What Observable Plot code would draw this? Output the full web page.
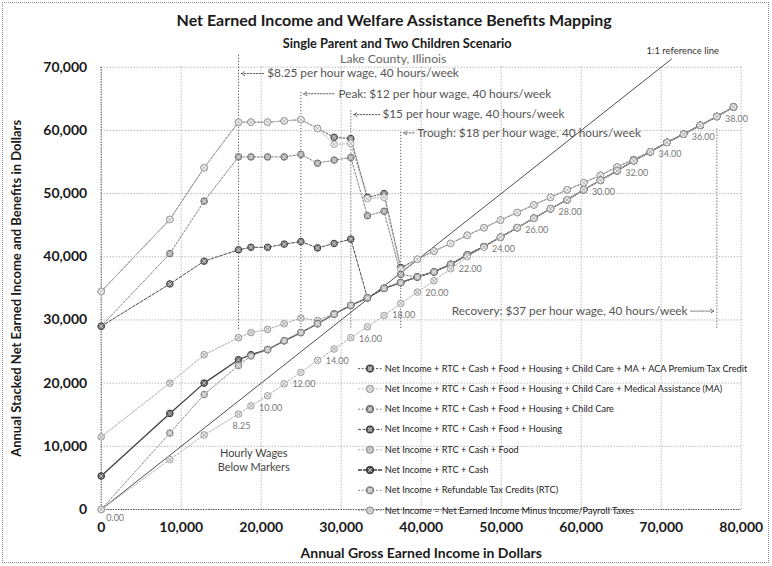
<!DOCTYPE html>
<html><head><meta charset="utf-8">
<script src="https://cdn.jsdelivr.net/npm/d3@7"></script>
<script src="https://cdn.jsdelivr.net/npm/@observablehq/plot@0.6"></script>
<style>
body{margin:0;background:#fff;}
#wrap{position:relative;width:772px;height:566px;overflow:hidden;}
#border{position:absolute;left:2px;top:2px;width:767px;height:561px;border:1px dotted #8a8a8a;box-sizing:border-box;pointer-events:none;}
</style></head><body><div id="wrap"><div id="border"></div></div>
<script>
// ---------- data ----------
const grossIncome = [0, 8580, 12870, 17160, 18720, 20800, 22880, 24960, 27040, 29120, 31200, 33280, 35360, 37440, 39520, 41600, 43680, 45760, 47840, 49920, 52000, 54080, 56160, 58240, 60320, 62400, 64480, 66560, 68640, 70720, 72800, 74880, 76960, 79040];
const wageLabels = ["0.00", "", "", "8.25", "", "10.00", "", "12.00", "", "14.00", "", "16.00", "", "18.00", "", "20.00", "", "22.00", "", "24.00", "", "26.00", "", "28.00", "", "30.00", "", "32.00", "", "34.00", "", "36.00", "", "38.00"];
const seriesNames = [
  "Net Income + RTC + Cash + Food + Housing + Child Care + MA + ACA Premium Tax Credit",
  "Net Income + RTC + Cash + Food + Housing + Child Care + Medical Assistance (MA)",
  "Net Income + RTC + Cash + Food + Housing + Child Care",
  "Net Income + RTC + Cash + Food + Housing",
  "Net Income + RTC + Cash + Food",
  "Net Income + RTC + Cash",
  "Net Income + Refundable Tax Credits (RTC)",
  "Net Income = Net Earned Income Minus Income/Payroll Taxes"
];
const sACA = [34500, 45900, 54100, 61300, 61300, 61300, 61500, 61700, 60300, 58900, 58700, 49400, 50000, 38300, 39600, 40900, 42100, 43400, 44600, 45800, 47000, 48200, 49400, 50600, 51700, 52900, 54200, 55400, 56600, 58100, 59400, 60800, 62200, 63700];
const sMA = [34500, 45900, 54100, 61300, 61300, 61300, 61500, 61700, 60300, 57800, 57900, 49200, 49400, 38000, 39600, 40900, 42100, 43400, 44600, 45800, 47000, 48200, 49400, 50600, 51700, 52900, 54200, 55400, 56600, 58100, 59400, 60800, 62200, 63700];
const sChildCare = [29000, 40500, 48800, 55800, 55800, 55800, 55800, 56200, 54800, 55300, 55700, 46500, 47200, 37200, 36800, 37600, 38800, 40300, 41600, 43100, 44600, 46100, 47600, 49000, 50600, 52100, 53600, 55200, 56600, 58100, 59400, 60800, 62200, 63700];
const sHousing = [29000, 35700, 39300, 41100, 41500, 41500, 42000, 42400, 41400, 42100, 42800, 33500, 35000, 35900, 36800, 37600, 38800, 40300, 41600, 43100, 44600, 46100, 47600, 49000, 50600, 52100, 53600, 55200, 56600, 58100, 59400, 60800, 62200, 63700];
const sFood = [11500, 20000, 24500, 27200, 28000, 28500, 29400, 30300, 29900, 31000, 32300, 33500, 35000, 35900, 36800, 37600, 38800, 40300, 41600, 43100, 44600, 46100, 47600, 49000, 50600, 52100, 53600, 55200, 56600, 58100, 59400, 60800, 62200, 63700];
const sCash = [5300, 15200, 20000, 23700, 24500, 25300, 26700, 28000, 29400, 30900, 32300, 33500, 35000, 35900, 36800, 37600, 38800, 40300, 41600, 43100, 44600, 46100, 47600, 49000, 50600, 52100, 53600, 55200, 56600, 58100, 59400, 60800, 62200, 63700];
const sRTC = [0, 12100, 18200, 22800, 24300, 25300, 26700, 28000, 29400, 30900, 32300, 33500, 35000, 35900, 36800, 37600, 38800, 40300, 41600, 43100, 44600, 46100, 47600, 49000, 50600, 52100, 53600, 55200, 56600, 58100, 59400, 60800, 62200, 63700];
const sNetIncome = [0, 7900, 11800, 15100, 16400, 18000, 19900, 21700, 23600, 25400, 27200, 28900, 30700, 32600, 34400, 36200, 38100, 40000, 41500, 43100, 44600, 46100, 47600, 49000, 50600, 52100, 53600, 55200, 56600, 58100, 59400, 60800, 62200, 63700];
const seriesValues = [sACA, sMA, sChildCare, sHousing, sFood, sCash, sRTC, sNetIncome];
const yTicks = [0, 10000, 20000, 30000, 40000, 50000, 60000, 70000];
const xTicks = [0, 10000, 20000, 30000, 40000, 50000, 60000, 70000, 80000];
const markerWages = [8.25, 12, 15, 18, 37];
const markerGross = [17160, 24960, 31200, 37440, 76960];
const markerTexts = [
  "$8.25 per hour wage, 40 hours/week",
  "Peak: $12 per hour wage, 40 hours/week",
  "$15 per hour wage, 40 hours/week",
  "Trough: $18 per hour wage, 40 hours/week",
  "Recovery: $37 per hour wage, 40 hours/week"
];
const refLine = [0, 71300];

// ---------- styles ----------
const styles = [
  {line:"#5a5a5a", dash:"2,1.6", w:1,   fill:"#8c8c8c", stroke:"#404040", cross:"#e0e0e0"},
  {line:"#b5b5b5", dash:"2,1.6", w:1,   fill:"#f4f4f4", stroke:"#a8a8a8", cross:"#a8a8a8"},
  {line:"#828282", dash:"2,1.6", w:1,   fill:"#a8a8a8", stroke:"#6e6e6e", cross:"#e6e6e6"},
  {line:"#4d4d4d", dash:"3,1.6", w:1,   fill:"#808080", stroke:"#404040", cross:"#d9d9d9"},
  {line:"#a8a8a8", dash:"2,1.6", w:1,   fill:"#e8e8e8", stroke:"#999999", cross:"#999999"},
  {line:"#404040", dash:null,    w:1.3, fill:"#6b6b6b", stroke:"#333333", cross:"#cccccc"},
  {line:"#8c8c8c", dash:"2,1.6", w:1,   fill:"#c0c0c0", stroke:"#808080", cross:"#eeeeee"},
  {line:"#b0b0b0", dash:"2,1.6", w:1,   fill:"#ededed", stroke:"#a0a0a0", cross:"#a0a0a0"}
];

const seriesRows = seriesValues.map((vals, si) => vals.map((v, i) => ({series: seriesNames[si], x: grossIncome[i], y: v})));
const labelRows = sNetIncome.map((v, i) => ({x: grossIncome[i], y: v, t: wageLabels[i], i})).filter(d => d.t !== "");
const markerRows = markerGross.map((g, i) => ({x: g, wage: markerWages[i], text: markerTexts[i], i}));
const markerTop = [71900, 66000, 63100, 59700, 60200];
const markerBottom = 28500;
const arrowRows = [
  {x1: 20300, x2: 17500, y: 69000},
  {x1: 29100, x2: 25300, y: 65800},
  {x1: 34800, x2: 31550, y: 62500},
  {x1: 39100, x2: 37800, y: 59600},
  {x1: 73700, x2: 76600, y: 31400}
];
const textPos = [
  {x: 20750, y: 69000, a: "start"},
  {x: 29650, y: 65800, a: "start"},
  {x: 35150, y: 62500, a: "start"},
  {x: 39500, y: 59600, a: "start"},
  {x: 73300, y: 31400, a: "end"}
];

const legendTop = 22300, legendStep = 3210;
const legendRows = seriesNames.map((n, i) => ({n, i, y: legendTop - i * legendStep}));

const marks = [];
marks.push(Plot.gridY(yTicks, {stroke: "#9a9a9a", strokeOpacity: 1, strokeDasharray: "1,2"}));
marks.push(Plot.gridX(xTicks, {stroke: "#9a9a9a", strokeOpacity: 1, strokeDasharray: "1,2"}));
marks.push(Plot.ruleX([0], {stroke: "#333", strokeDasharray: "1,1.5"}));
marks.push(Plot.ruleY([0], {stroke: "#333", strokeDasharray: "1,1.5"}));
marks.push(Plot.axisY(yTicks, {tickSize: 0, tickPadding: 14, fontSize: 14, fontWeight: "bold", fill: "#1a1a1a", tickFormat: d3.format(","), label: null}));
marks.push(Plot.axisX(xTicks, {tickSize: 0, tickPadding: 13, fontSize: 14, fontWeight: "bold", fill: "#1a1a1a", tickFormat: d3.format(","), label: null}));

// vertical wage marker lines
marks.push(Plot.ruleX(markerRows, {x: "x", y1: d => markerTop[d.i], y2: markerBottom, stroke: "#555", strokeDasharray: "1.2,1.8"}));
// 1:1 reference line
marks.push(Plot.line(refLine.map(v => ({x: v, y: v})), {x: "x", y: "y", stroke: "#3a3a3a", strokeWidth: 0.9}));

// series
for (let si = 0; si < seriesRows.length; si++) {
  const s = styles[si];
  marks.push(Plot.line(seriesRows[si], {x: "x", y: "y", stroke: s.line, strokeWidth: s.w, strokeDasharray: s.dash || undefined}));
}
for (let si = 0; si < seriesRows.length; si++) {
  const s = styles[si];
  marks.push(Plot.dot(seriesRows[si], {x: "x", y: "y", r: 3.3, fill: s.fill, stroke: s.stroke, strokeWidth: 1}));
  marks.push(Plot.dot(seriesRows[si], {x: "x", y: "y", r: 2.1, symbol: "times", stroke: s.cross, strokeWidth: 0.8}));
}

// wage labels under net income markers
marks.push(Plot.text(labelRows.filter(d => d.i > 0), {x: "x", y: "y", text: "t", dx: 3, dy: 12, fontSize: 9, fill: "#777", lineAnchor: "middle"}));
marks.push(Plot.text(labelRows.filter(d => d.i === 0), {x: "x", y: "y", text: "t", dx: 14, dy: 9, fontSize: 9, fill: "#777", lineAnchor: "middle"}));

// annotations
marks.push(Plot.arrow(arrowRows, {x1: "x1", x2: "x2", y1: "y", y2: "y", stroke: "#666", strokeWidth: 1, strokeDasharray: "1.5,1.5", headLength: 6}));
for (let i = 0; i < markerRows.length; i++) {
  marks.push(Plot.text([markerTexts[i]], {x: textPos[i].x, y: textPos[i].y, text: d => d, textAnchor: textPos[i].a, fontSize: 11.8, fill: "#555", lineAnchor: "middle"}));
}
marks.push(Plot.text(["1:1 reference line"], {x: 72700, y: 72500, text: d => d, fontSize: 9.5, fill: "#333", lineAnchor: "middle"}));
marks.push(Plot.text(["Hourly Wages", "Below Markers"], {x: 19070, y: (d, i) => i === 0 ? 8810 : 6690, text: d => d, fontSize: 11, fill: "#444", lineAnchor: "middle"}));

// legend
for (let i = 0; i < legendRows.length; i++) {
  const s = styles[i];
  const r = [legendRows[i]];
  marks.push(Plot.link(r, {x1: 32100, x2: 35100, y1: "y", y2: "y", stroke: s.line, strokeWidth: s.w, strokeDasharray: s.dash || "4,1"}));
  marks.push(Plot.dot(r, {x: 33600, y: "y", r: 3.3, fill: s.fill, stroke: s.stroke}));
  marks.push(Plot.dot(r, {x: 33600, y: "y", r: 2.1, symbol: "times", stroke: s.cross, strokeWidth: 0.8}));
  marks.push(Plot.text(r, {x: 35450, y: "y", text: "n", textAnchor: "start", fontSize: 9.2, fill: "#222", lineAnchor: "middle"}));
}

// titles
marks.push(Plot.text(["Net Earned Income and Welfare Assistance Benefits Mapping"], {frameAnchor: "top", dx: -27, dy: -46.5, fontSize: 16, fontWeight: "bold", fill: "#1a1a1a", lineAnchor: "middle", textAnchor: "middle"}));
marks.push(Plot.text(["Single Parent and Two Children Scenario"], {frameAnchor: "top", dx: -24, dy: -23, fontSize: 12.8, fontWeight: "bold", fill: "#1a1a1a", lineAnchor: "middle", textAnchor: "middle"}));
marks.push(Plot.text(["Lake County, Illinois"], {frameAnchor: "top", dx: -28, dy: -8.5, fontSize: 12.2, fill: "#666", lineAnchor: "middle", textAnchor: "middle"}));
marks.push(Plot.text(["Annual Gross Earned Income in Dollars"], {frameAnchor: "bottom", dx: 0, dy: 44, fontSize: 14, fontWeight: "bold", fill: "#1a1a1a", lineAnchor: "middle", textAnchor: "middle"}));
marks.push(Plot.text(["Annual Stacked Net Earned Income and Benefits in Dollars"], {frameAnchor: "left", dx: -84, dy: 0, rotate: -90, fontSize: 13, fontWeight: "bold", fill: "#1a1a1a", lineAnchor: "middle", textAnchor: "middle"}));

const chart = Plot.plot({
  width: 772,
  height: 566,
  marginLeft: 100.7,
  marginRight: 31.3,
  marginTop: 66.7,
  marginBottom: 57,
  x: {domain: [0, 80000], axis: null},
  y: {domain: [0, 70000], axis: null},
  style: {fontFamily: "Lato, 'Noto Sans', sans-serif", background: "transparent", overflow: "visible"},
  marks
});
document.getElementById("wrap").insertBefore(chart, document.getElementById("border"));
</script>
</body></html>
